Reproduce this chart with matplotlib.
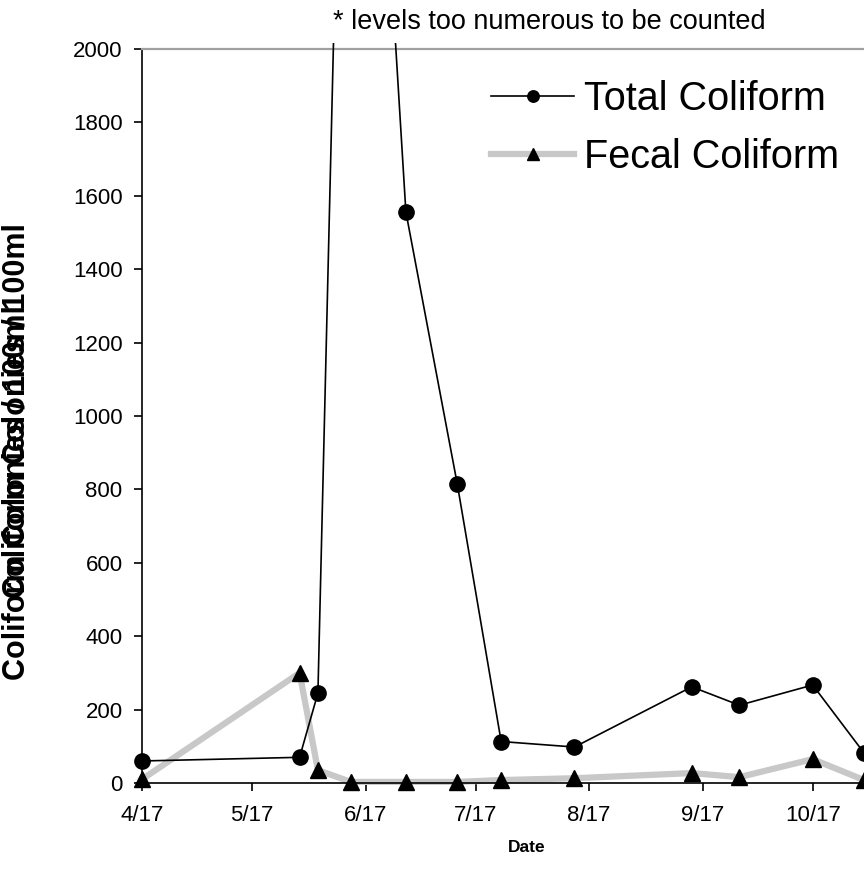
import matplotlib
matplotlib.use("Agg")
import matplotlib.pyplot as plt
import matplotlib.dates as mdates
from matplotlib.patches import Rectangle
from matplotlib.ticker import FuncFormatter
import pandas as pd

plt.rcParams['font.family'] = ['Liberation Sans', 'DejaVu Sans']

# sampling dates and colony counts per 100 ml
sample_dates = ["2003-04-17", "2003-05-30", "2003-06-04", "2003-06-13", "2003-06-28",
                "2003-07-12", "2003-07-24", "2003-08-13", "2003-09-14", "2003-09-27",
                "2003-10-17", "2003-10-31"]
total_coliform = [60, 70, 245, 4000, 1556, 816, 113, 98, 262, 212, 267, 82]
fecal_coliform = [10, 300, 35, 3, 3, 3, 8, 13, 27, 16, 65, 8]
tick_dates = ["2003-04-17", "2003-05-17", "2003-06-17", "2003-07-17",
              "2003-08-17", "2003-09-17", "2003-10-17"]

dates = pd.to_datetime(sample_dates)
ticks = pd.to_datetime(tick_dates)

fig = plt.figure(figsize=(8.64, 8.84), dpi=100)
ax = fig.add_axes([142/864, 1 - 783/884, 1 - 142/864, (783 - 49)/884])

fecal, = ax.plot(dates, fecal_coliform, color='#c8c8c8', lw=4.5, marker='^',
                 ms=11, mfc='black', mec='black', label='Fecal Coliform', zorder=2)
total, = ax.plot(dates, total_coliform, color='black', lw=1.2, marker='o',
                 ms=11, mfc='black', mec='black', label='Total Coliform', zorder=3)

# let lines run slightly past the top border, markers past the sides
clip = Rectangle((-0.2, -0.2), 1.4, 1.2082, transform=ax.transAxes)
for ln in (fecal, total):
    ln.set_clip_path(clip)

ax.set_ylim(0, 2000)
ax.set_yticks(range(0, 2001, 200))
ax.set_xlim(pd.Timestamp("2003-04-17"), pd.Timestamp("2003-10-31"))
ax.set_xticks(ticks)
ax.xaxis.set_major_formatter(FuncFormatter(
    lambda v, pos: "%d/%d" % (mdates.num2date(v).month, mdates.num2date(v).day)))

ax.spines['right'].set_visible(False)
ax.spines['top'].set_color('#a0a0a0')
ax.spines['top'].set_linewidth(1.6)
ax.spines['left'].set_linewidth(1.2)
ax.spines['bottom'].set_linewidth(1.2)
ax.tick_params(axis='both', direction='out', length=6, width=1.2, labelsize=16, pad=8)
ax.tick_params(axis='x', pad=10)

fig.text(527/864, 1 - 847/884, 'Date', fontsize=12.5, fontweight='bold',
         ha='center', va='center')

# y label printed twice, slightly offset
ylab = 'Coliform Colonies / 100ml'
fig.text(17/864, 1 - 680/884, ylab, rotation=90, fontsize=22, fontweight='bold',
         ha='center', va='bottom')
fig.text(17/864, 1 - 223/884, ylab, rotation=90, fontsize=22, fontweight='bold',
         ha='center', va='top')

fig.text(333/864, 1 - 22/884, '* levels too numerous to be counted', fontsize=19.5,
         ha='left', va='center')

ax.legend(handles=[total, fecal], loc='upper left', bbox_to_anchor=(491/864, 1 - 80/884),
          bbox_transform=fig.transFigure, frameon=False, fontsize=28.5,
          handlelength=2.1, handletextpad=0.25, labelspacing=0.5, borderpad=0,
          borderaxespad=0, markerscale=0.75)

fig.savefig('out.png', dpi=100)
